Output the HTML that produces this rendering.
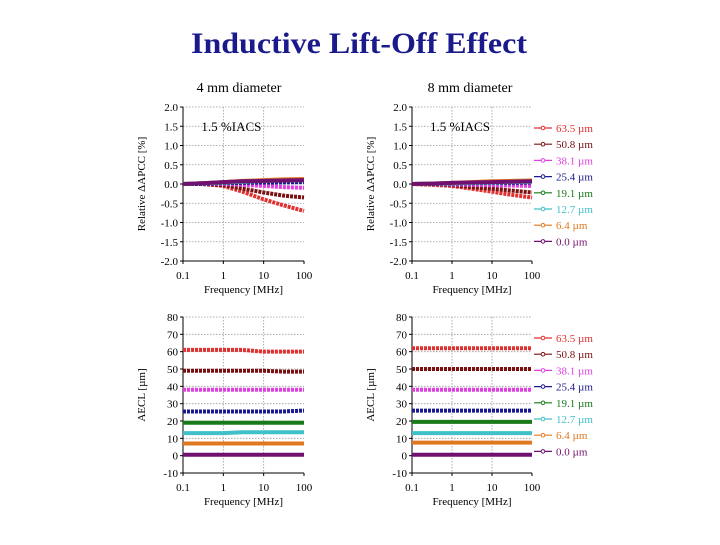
<!DOCTYPE html>
<html><head><meta charset="utf-8"><style>
body{margin:0;background:#fff;width:720px;height:540px;overflow:hidden;font-family:"Liberation Serif",serif}
</style></head><body>
<svg id="c" width="720" height="540" xmlns="http://www.w3.org/2000/svg" font-family="Liberation Serif, serif">
<text x="359" y="53" text-anchor="middle" font-size="30" font-weight="bold" fill="#1a1a8c" textLength="336" lengthAdjust="spacingAndGlyphs">Inductive Lift-Off Effect</text>
<text x="239" y="92" text-anchor="middle" font-size="14">4 mm diameter</text>
<text x="470" y="92" text-anchor="middle" font-size="14">8 mm diameter</text>
</svg>
<script>
const freqs=[0.1,0.3,1,3,10,30,100];
const seriesNames=["63.5 µm","50.8 µm","38.1 µm","25.4 µm","19.1 µm","12.7 µm","6.4 µm","0.0 µm"];
const seriesColors=["#e03030","#7a1010","#e040e0","#1a1a90","#1a7a1a","#40c0c8","#e07820","#701070"];
const xTicks=[0.1,1,10,100];
const xTickLabels=["0.1","1","10","100"];
const topYTicks=[2.0,1.5,1.0,0.5,0.0,-0.5,-1.0,-1.5,-2.0];
const botYTicks=[80,70,60,50,40,30,20,10,0,-10];
const topLeftValues=[
[0,0,-0.05,-0.2,-0.4,-0.55,-0.7],
[0,0,-0.03,-0.12,-0.22,-0.3,-0.35],
[0,0,0,-0.02,-0.05,-0.08,-0.1],
[0,0,0.02,0.03,0.04,0.04,0.05],
[0,0.02,0.04,0.06,0.08,0.09,0.1],
[0,0.02,0.04,0.06,0.08,0.09,0.1],
[0,0.02,0.05,0.08,0.1,0.12,0.13],
[0,0.02,0.05,0.07,0.08,0.09,0.1]];
const topRightValues=[
[0,-0.02,-0.05,-0.12,-0.2,-0.28,-0.35],
[0,0,-0.03,-0.08,-0.12,-0.17,-0.22],
[0,0,-0.01,-0.02,-0.03,-0.04,-0.05],
[0,0,0.01,0.02,0.03,0.03,0.04],
[0,0.01,0.02,0.04,0.05,0.06,0.07],
[0,0.01,0.02,0.03,0.04,0.05,0.06],
[0,0.01,0.03,0.05,0.07,0.08,0.09],
[0,0.01,0.03,0.04,0.05,0.06,0.07]];
const botLeftValues=[
[61,61,61,61,60,60,60],[49,49,49,49,49,48.5,48.5],[38,38,38,38,38,38,38],[25.5,25.5,25.5,25.5,25.5,25.5,26],
[19,19,19,19,19,19,19],[13,13,13,13.5,13.5,13.5,13.5],[7,7,7,7,7,7,7],[0.5,0.5,0.5,0.5,0.5,0.5,0.5]];
const botRightValues=[
[62,62,62,62,62,62,62],[50,50,50,50,50,50,50],[38,38,38,38,38,38,38],[26,26,26,26,26,26,26],
[19.5,19.5,19.5,19.5,19.5,19.5,19.5],[13,13,13,13,13,13,13],[7.5,7.5,7.5,7.5,7.5,7.5,7.5],[0.5,0.5,0.5,0.5,0.5,0.5,0.5]];

const NS="http://www.w3.org/2000/svg";
const svg=document.getElementById('c');
function mk(t,a,p){const e=document.createElementNS(NS,t);for(const k in a)e.setAttribute(k,a[k]);(p||svg).appendChild(e);return e;}

function panel(id,x0,x1,y0,y1,yTicks,yMin,yMax,vals,yLabel,decimals,note,legendY){
  const g=mk('g',{});
  
  
  const xs=v=>x0+(Math.log10(v)+1)/3*(x1-x0);
  const ys=v=>y1-(v-yMin)/(yMax-yMin)*(y1-y0);
  yTicks.forEach(t=>{
    const y=ys(t);
    const gl=mk('line',{x1:x0,x2:x1,y1:y,y2:y,stroke:'#999','stroke-dasharray':'1.5,1.5','stroke-width':0.8},g);
    
    
    mk('line',{x1:x0-3,x2:x0,y1:y,y2:y,stroke:'#000'},g);
    const tl=mk('text',{x:x0-5,y:y+4,'text-anchor':'end','font-size':11},g);
    tl.textContent=decimals?t.toFixed(1):String(t);
    
    
  });
  xTicks.forEach((t,i)=>{
    const x=xs(t);
    if(i>0&&i<3){const gl=mk('line',{x1:x,x2:x,y1:y0,y2:y1,stroke:'#999','stroke-dasharray':'1.5,1.5','stroke-width':0.8},g);
      
      }
    mk('line',{x1:x,x2:x,y1:y1,y2:y1+3,stroke:'#000'},g);
    const tl=mk('text',{x:x,y:y1+18,'text-anchor':'middle','font-size':11},g);
    tl.textContent=xTickLabels[i];
    
    
  });
  mk('line',{x1:x0,x2:x0,y1:y0,y2:y1,stroke:'#000'},g);
  mk('line',{x1:x0,x2:x1,y1:y1,y2:y1,stroke:'#000'},g);
  const xl=mk('text',{x:(x0+x1)/2,y:y1+32,'text-anchor':'middle','font-size':11},g);
  xl.textContent='Frequency [MHz]';
  
  
  const yl=mk('text',{x:0,y:0,'text-anchor':'middle','font-size':11,transform:`translate(${x0-38},${(y0+y1)/2}) rotate(-90)`},g);
  yl.textContent=yLabel;
  
  
  if(note){const n=mk('text',{x:x0+(x1-x0)*0.4,y:y0+24,'text-anchor':'middle','font-size':13},g);
    n.textContent=note;
    
    }
  vals.forEach((s,si)=>{
    const pts=s.map((v,i)=>xs(freqs[i])+','+ys(v)).join(' ');
    const pl=mk('polyline',{points:pts,fill:'none',stroke:seriesColors[si],'stroke-width':4,'stroke-dasharray':si<4?'3,1':'none'},g);
    
    
  });
  if(legendY!=null){
    seriesNames.forEach((n,i)=>{
      const y=legendY+i*16.2;
      const lg=mk('g',{},svg);
      
      
      mk('line',{x1:534,x2:552,y1:y,y2:y,stroke:seriesColors[i],'stroke-width':1.2},lg);
      mk('circle',{cx:543,cy:y,r:1.8,fill:'#fff',stroke:seriesColors[i]},lg);
      const t=mk('text',{x:556,y:y+4,'font-size':11,fill:seriesColors[i]},lg);
      t.textContent=n;
    });
  }
}
panel('top-left-panel',183,304,107,261,topYTicks,-2,2,topLeftValues,'Relative ΔAPCC [%]',true,'1.5 %IACS',null);
panel('top-right-panel',412,532,107,261,topYTicks,-2,2,topRightValues,'Relative ΔAPCC [%]',true,'1.5 %IACS',128);
panel('bottom-left-panel',183,304,317,473,botYTicks,-10,80,botLeftValues,'AECL [µm]',false,null,null);
panel('bottom-right-panel',412,532,317,473,botYTicks,-10,80,botRightValues,'AECL [µm]',false,null,338);
</script>
</body></html>
